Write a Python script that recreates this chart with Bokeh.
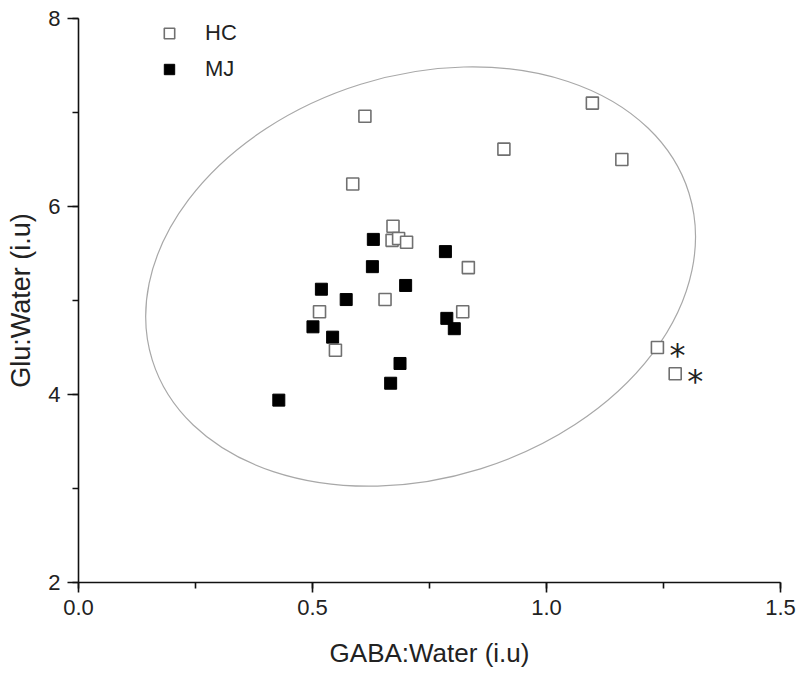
from bokeh.plotting import figure
from bokeh.models import (ColumnDataSource, Legend, LegendItem, SingleIntervalTicker,
                          Range1d, NumeralTickFormatter)
from bokeh.embed import file_html
from bokeh.resources import INLINE
from bokeh.core.properties import value
import math

# ---- data ----
hc_gaba = [0.612, 1.098, 0.909, 1.161, 0.586, 0.672, 0.670, 0.684, 0.701, 0.833,
           0.655, 0.515, 0.821, 0.549, 1.237, 1.275]
hc_glu = [6.96, 7.10, 6.61, 6.50, 6.24, 5.79, 5.64, 5.66, 5.62, 5.35,
          5.01, 4.88, 4.88, 4.47, 4.50, 4.22]
hc_outlier = [False] * 14 + [True, True]

mj_gaba = [0.630, 0.784, 0.628, 0.699, 0.519, 0.572, 0.501, 0.787, 0.803, 0.543,
           0.687, 0.667, 0.428]
mj_glu = [5.65, 5.52, 5.36, 5.16, 5.12, 5.01, 4.72, 4.81, 4.70, 4.61,
          4.33, 4.12, 3.94]

group_labels = ["HC", "MJ"]

# confidence ellipse (data-unit extents, screen-space tilt)
ell_x = 0.731
ell_y = 5.255
ell_w = 1.201
ell_h = 4.287
ell_angle_deg = 17.3

x_label = "GABA:Water (i.u)"
y_label = "Glu:Water (i.u)"

FONT = "Liberation Sans"

p = figure(width=800, height=673, x_range=Range1d(0, 1.5), y_range=Range1d(2, 8),
           output_backend="svg", toolbar_location=None,
           min_border_left=78, min_border_right=20, min_border_top=18, min_border_bottom=91)
p.outline_line_color = None
p.grid.visible = False
p.background_fill_color = "white"
p.border_fill_color = "white"

# ellipse
p.ellipse(x=[ell_x], y=[ell_y], width=[ell_w], height=[ell_h],
          angle=[math.radians(ell_angle_deg)], fill_color=None,
          line_color="#a8a8a8", line_width=1.2)

hc_src = ColumnDataSource(dict(x=hc_gaba, y=hc_glu))
mj_src = ColumnDataSource(dict(x=mj_gaba, y=mj_glu))

r_mj = p.scatter("x", "y", source=mj_src, marker="square", size=12,
                 fill_color="black", line_color="black", line_width=1)
r_hc = p.scatter("x", "y", source=hc_src, marker="square", size=12,
                 fill_color="white", line_color="#707070", line_width=1.6)

# asterisks next to flagged HC points
ox = [x for x, f in zip(hc_gaba, hc_outlier) if f]
oy = [y for y, f in zip(hc_glu, hc_outlier) if f]
p.text(x=ox, y=oy, text=["*"] * len(ox), x_offset=20, y_offset=7,
       text_align="center", text_baseline="middle",
       text_font=value("DejaVu Sans"), text_font_size="32px", text_color="#222222")

# axes
for ax in (p.xaxis[0], p.yaxis[0]):
    ax.axis_line_color = "#111111"
    ax.axis_line_width = 1.6
    ax.major_tick_line_color = "#111111"
    ax.major_tick_line_width = 1.6
    ax.minor_tick_line_color = "#111111"
    ax.minor_tick_line_width = 1.6
    ax.major_tick_in = 0
    ax.minor_tick_in = 0
    ax.major_label_text_font = FONT
    ax.major_label_text_font_size = "22px"
    ax.major_label_text_color = "#222222"
    ax.axis_label_text_font = FONT
    ax.axis_label_text_font_style = "normal"
    ax.axis_label_text_color = "#222222"

p.xaxis[0].ticker = SingleIntervalTicker(interval=0.5, num_minor_ticks=2)
p.yaxis[0].ticker = SingleIntervalTicker(interval=2, num_minor_ticks=2)
p.xaxis[0].formatter = NumeralTickFormatter(format="0.0")
p.yaxis[0].formatter = NumeralTickFormatter(format="0")
p.xaxis[0].major_tick_out = 10
p.xaxis[0].minor_tick_out = 6
p.yaxis[0].major_tick_out = 11
p.yaxis[0].minor_tick_out = 6
p.xaxis[0].major_label_standoff = 7
p.yaxis[0].major_label_standoff = 7
p.xaxis[0].axis_label = x_label
p.yaxis[0].axis_label = y_label
p.xaxis[0].axis_label_text_font_size = "26px"
p.yaxis[0].axis_label_text_font_size = "27px"
p.xaxis[0].axis_label_standoff = 20
p.yaxis[0].axis_label_standoff = 9

legend = Legend(items=[LegendItem(label=group_labels[0], renderers=[r_hc]),
                       LegendItem(label=group_labels[1], renderers=[r_mj])],
                location=(77, 500), orientation="vertical",
                glyph_width=28, glyph_height=26, label_height=26,
                label_standoff=22, spacing=10, padding=0, margin=0,
                border_line_color=None, background_fill_alpha=0,
                label_text_font=FONT, label_text_font_size="22px",
                label_text_color="#222222")
p.add_layout(legend)

open("out.html", "w").write(file_html(p, INLINE))
